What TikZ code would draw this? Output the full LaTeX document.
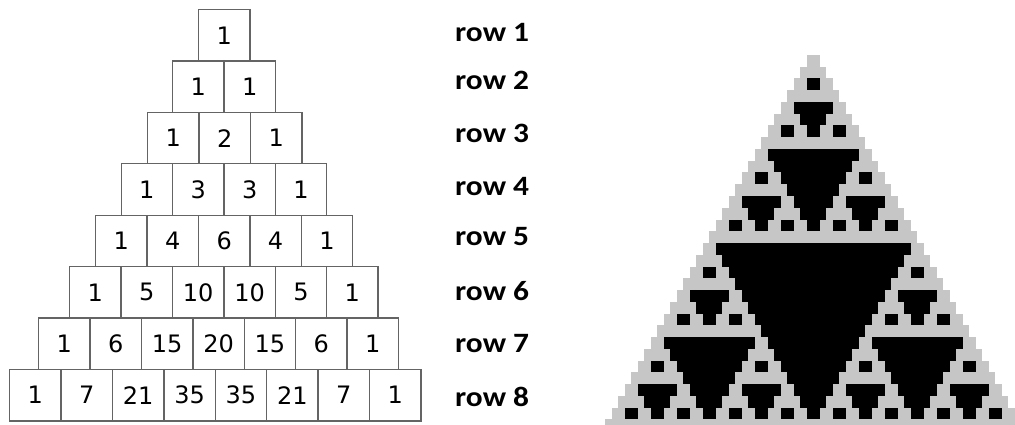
\documentclass[tikz,border=0pt]{standalone}
\usepackage{fontspec}
\setmainfont{DejaVu Sans}
\newfontfamily\lblfont[FakeStretch=1.12]{Carlito}
\definecolor{boxline}{RGB}{100,100,100}
\definecolor{sgray}{RGB}{198,198,198}
\begin{document}
\begin{tikzpicture}[x=1pt,y=-1pt,
  cellbox/.style={draw=boxline,line width=1.3pt,minimum width=51.4pt,minimum height=51.4pt,
    inner sep=0pt,anchor=north west,font=\fontsize{24}{24}\selectfont},
  rowlbl/.style={font=\lblfont\bfseries\fontsize{28}{28}\selectfont,anchor=west,inner sep=0pt}]
\useasboundingbox (0,0) rectangle (1015,425);
\fill[white] (0,0) rectangle (1015,425);
% Pascal triangle boxes
\foreach \r/\lx/\vals in {1/198/{1},2/172/{1,1},3/147/{1,2,1},4/120.5/{1,3,3,1},
   5/95/{1,4,6,4,1},6/69/{1,5,10,10,5,1},7/38/{1,6,15,20,15,6,1},8/9/{1,7,21,35,35,21,7,1}}{
  \foreach \v [count=\i from 0] in \vals {
    \node[cellbox] (p\r-\i) at ({\lx+\i*51.4},{9+(\r-1)*51.4}) {\v};
  }
}
% row labels
\foreach \r/\yy in {1/33,2/80,3/133,4/187,5/237,6/291,7/344,8/397}{
  \node[rowlbl] (l\r) at (455,\yy) {row \r};
}
% Sierpinski (Pascal mod 2)
\begin{scope}
\clip (0,0) rectangle (1015,425);
\foreach \n in {0,...,31}{
  \foreach \k in {0,...,\n}{
    \pgfmathtruncatemacro\bad{(mod(\k,2)>mod(\n,2))+(mod(div(\k,2),2)>mod(div(\n,2),2))+(mod(div(\k,4),2)>mod(div(\n,4),2))+(mod(div(\k,8),2)>mod(div(\n,8),2))+(mod(div(\k,16),2)>mod(div(\n,16),2))}
    \ifnum\bad=0
      \fill[sgray] ({813-(\n+1)*6.5+\k*13},{55+\n*11.75}) rectangle ++(13.3,12.05);
    \else
      \fill[black] ({813-(\n+1)*6.5+\k*13},{55+\n*11.75}) rectangle ++(13.3,12.05);
    \fi
  }
}
\end{scope}
\end{tikzpicture}
\end{document}
